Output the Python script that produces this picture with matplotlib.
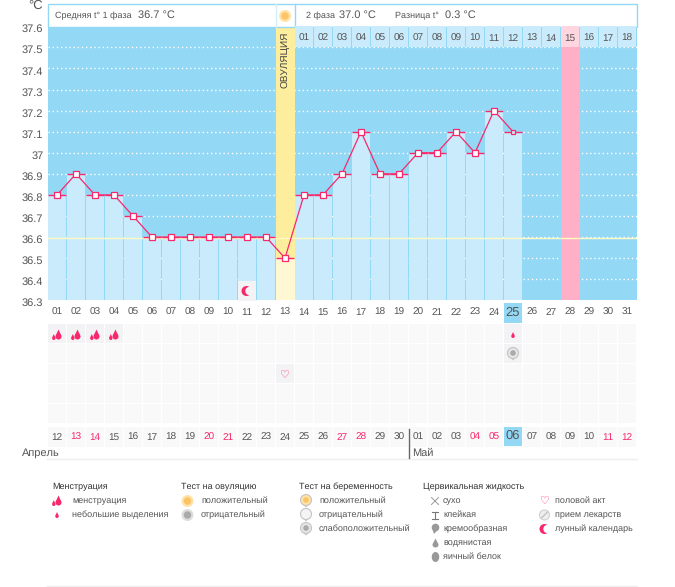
import matplotlib
matplotlib.use("Agg")
import matplotlib.pyplot as plt
from matplotlib.patches import Rectangle, Circle, Polygon, Ellipse
from matplotlib.transforms import offset_copy

plt.rcParams["font.family"] = ["Liberation Sans", "DejaVu Sans"]
plt.rcParams["text.hinting"] = "no_hinting"
plt.rcParams["text.hinting_factor"] = 1

# chart data
days = list(range(1, 32))
temps = [36.8, 36.9, 36.8, 36.8, 36.7, 36.6, 36.6, 36.6, 36.6, 36.6, 36.6, 36.6, 36.5,
         36.8, 36.8, 36.9, 37.1, 36.9, 36.9, 37.0, 37.0, 37.1, 37.0, 37.2, 37.1]
temp_days = days[:len(temps)]
y_ticks = [37.6, 37.5, 37.4, 37.3, 37.2, 37.1, 37.0, 36.9, 36.8, 36.7, 36.6, 36.5, 36.4, 36.3]
y_labels = ["37.6", "37.5", "37.4", "37.3", "37.2", "37.1", "37", "36.9", "36.8", "36.7",
            "36.6", "36.5", "36.4", "36.3"]
cover_line = 36.595
cycle_days = ["%02d" % d for d in range(1, 19)]
day_labels = ["%02d" % d for d in days]
date_labels = ["12", "13", "14", "15", "16", "17", "18", "19", "20", "21", "22", "23", "24", "25",
               "26", "27", "28", "29", "30", "01", "02", "03", "04", "05", "06", "07", "08", "09",
               "10", "11", "12"]
weekend_cols = [2, 3, 9, 10, 16, 17, 23, 24, 30, 31]
ovulation_day = 13
next_period_day = 28
today = 25
heavy_days = [1, 2, 3, 4]
spot_days = [25]
test_days = [25]
sex_days = [13]
moon_days = [11]

# colours
SKY = "#93D8F5"
PALE = "#C9EBFC"
RED = "#F8286A"
TXT = "#555555"
DARK = "#333333"
GRY = "#999999"

LEFT, STEP = 47.5, 19.0
TOP, BOTTOM = 26.3, 300.3

fig = plt.figure(figsize=(6.75, 5.87), dpi=100, facecolor="white")
bg = fig.add_axes([0, 0, 1, 1])
bg.set_xlim(0, 675)
bg.set_ylim(587, 0)
bg.axis("off")

ax = fig.add_axes([LEFT / 675, 1 - BOTTOM / 587, 31 * STEP / 675, (BOTTOM - TOP) / 587])
ax.set_xlim(0.5, 31.5)
ax.set_ylim(36.3, 37.6)
ax.set_facecolor(SKY)
for s in ax.spines.values():
    s.set_visible(False)
ax.set_xticks([])
ax.set_yticks(y_ticks)
ax.set_yticklabels(y_labels, color=TXT, fontsize=7.8)
ax.tick_params(axis="y", length=0, pad=3)
# the scale labels sit about 2px below their gridlines
for lab in ax.get_yticklabels():
    lab.set_transform(offset_copy(lab.get_transform(), fig=fig, y=-2, units="dots"))

for v in y_ticks[1:-1]:
    ax.axhline(v, color="white", lw=1, ls=(0, (1, 2)), zorder=1)
ax.axvspan(ovulation_day - 0.5, ovulation_day + 0.5, color="#FDEE9E", lw=0, zorder=2)
ax.axvspan(next_period_day - 0.5, next_period_day + 0.5, color="#FFB0C6", lw=0, zorder=2)

bar_colors = ["#FFF8D2" if d == ovulation_day else PALE for d in temp_days]
bar_widths = [1.0 if d == ovulation_day else 18 / 19 for d in temp_days]
ax.bar(temp_days, [t - 36.3 for t in temps], bottom=36.3, width=bar_widths,
       color=bar_colors, lw=0, zorder=3)
ax.axhline(cover_line, color="#FFF9C4", lw=1, zorder=4)
ax.hlines(temps, [d - 0.48 for d in temp_days], [d + 0.48 for d in temp_days],
          color=RED, lw=1, zorder=5)
ax.plot(temp_days, temps, color=RED, lw=0.9, zorder=6)
ax.plot(temp_days[:-1], temps[:-1], ls="", marker="s", ms=3.7, mfc="white", mec=RED, mew=0.9, zorder=7)
ax.plot(temp_days[-1:], temps[-1:], ls="", marker="s", ms=3.0, mfc=PALE, mec=RED, mew=0.9, zorder=7)


def col_x(day):
    return LEFT + (day - 0.5) * STEP


def txt(x, y, s, size=8.85, color=TXT, **kw):
    kw.setdefault("va", "center")
    bg.text(x, y, s, fontsize=size * 0.72, color=color, **kw)


def drop(x, y, w, h, color):
    # teardrop, pointed at the top
    bg.add_patch(Ellipse((x, y + h * 0.2), w, h * 0.6, color=color, lw=0, zorder=9))
    bg.add_patch(Polygon([(x - w * 0.42, y + h * 0.05), (x, y - h * 0.5), (x + w * 0.42, y + h * 0.05)],
                         color=color, lw=0, zorder=9))


def heavy_icon(x, y):
    drop(x + 1.5, y - 0.5, 6, 10, RED)
    drop(x - 3.2, y + 2, 3.4, 6, RED)


def sun_icon(x, y, r=6, outer="#FFE3A6", inner="#FBC468"):
    bg.add_patch(Circle((x, y), r, color=outer, lw=0, zorder=9))
    bg.add_patch(Circle((x, y), r * 0.62, color=inner, lw=0, zorder=9))


def test_icon(x, y, face, dot):
    bg.add_patch(Polygon([(x - 3.5, y + 4), (x, y + 7.5), (x + 3.5, y + 4)], color="#C8C8C8", lw=0, zorder=9))
    bg.add_patch(Circle((x, y), 5.5, fc=face, ec="#C4C4C4", lw=0.8, zorder=9))
    if dot:
        bg.add_patch(Circle((x, y), 2.8, color=dot, lw=0, zorder=10))


def moon_icon(x, y, cut):
    bg.add_patch(Circle((x, y), 5, color=RED, lw=0, zorder=9))
    bg.add_patch(Circle((x + 3, y), 4.2, color=cut, lw=0, zorder=10))


def heart_icon(x, y):
    bg.text(x, y, "\u2661", fontsize=8, color=RED, ha="center", va="center",
            family="DejaVu Sans", zorder=10)


bg.set_zorder(5)

# header frame
bg.add_patch(Rectangle((47.5, 3.5), 589, 23, fc="white", ec=SKY, lw=1, zorder=1))
bg.plot([275.5, 275.5], [3.5, 26.5], color="#D3EEFA", lw=1, zorder=2)
bg.plot([294.5, 294.5], [3.5, 26.5], color=SKY, lw=1, zorder=2)
txt(28, 6, "\u00b0C", size=13)
txt(55, 16, "\u0421\u0440\u0435\u0434\u043d\u044f\u044f t\u00b0 1 \u0444\u0430\u0437\u0430", size=9.3)
txt(138, 15.5, "36.7 \u00b0C", size=11)
sun_icon(col_x(ovulation_day), 16)
txt(306, 16, "2 \u0444\u0430\u0437\u0430", size=9.3)
txt(339, 15.5, "37.0 \u00b0C", size=11)
txt(395, 16, "\u0420\u0430\u0437\u043d\u0438\u0446\u0430 t\u00b0", size=9.3)
txt(445, 15.5, "0.3 \u00b0C", size=11)

# cycle days above the phase 2 columns
for i, lab in enumerate(cycle_days):
    d = ovulation_day + 1 + i
    c = "#FFD5E0" if d == next_period_day else PALE
    bg.add_patch(Rectangle((LEFT + (d - 1) * STEP + 0.5, TOP), STEP - 1, 21, color=c, lw=0, zorder=8))
    txt(col_x(d), 38, lab, size=10.4, ha="center", zorder=9)
txt(col_x(ovulation_day), 60, "\u041e\u0412\u0423\u041b\u042f\u0426\u0418\u042f", size=9.9, rotation=90, ha="center", color="#444444", zorder=9)

# calendar rows
CELL = "#F9F9FA"
ACTIVE = "#F3F2F4"
for d in days:
    x0 = LEFT + (d - 1) * STEP + 0.5
    for r in range(5):
        active = (r == 0 and (d in heavy_days or d in spot_days)) or (r == 1 and d in test_days) or (r == 2 and d in sex_days)
        bg.add_patch(Rectangle((x0, 324 + r * 20), STEP - 1, 19, color=ACTIVE if active else CELL, lw=0, zorder=2))
    bg.add_patch(Rectangle((x0, 427), STEP - 1, 19.5, color=CELL, lw=0, zorder=2))
    if d == today:
        bg.add_patch(Rectangle((x0, 303), STEP - 1, 20, color=SKY, lw=0, zorder=3))
        bg.add_patch(Rectangle((x0, 427), STEP - 1, 19, color=SKY, lw=0, zorder=3))
    big = d == today
    txt(col_x(d), 312.5, day_labels[d - 1], size=12.5 if big else 10.4, ha="center", zorder=4)
    txt(col_x(d), 436 if big else 437.5, date_labels[d - 1], size=12.5 if big else 10.4,
        color=RED if d in weekend_cols else TXT, ha="center", zorder=4)

for d in heavy_days:
    heavy_icon(col_x(d), 335)
for d in spot_days:
    drop(col_x(d), 335, 3.5, 6, RED)
for d in test_days:
    test_icon(col_x(d), 353, "#E6E6E6", "#AAAAAA")
for d in sex_days:
    heart_icon(col_x(d), 375)
for d in moon_days:
    bg.add_patch(Rectangle((LEFT + (d - 1) * STEP + 0.5, 281), STEP - 1, 20, color=ACTIVE, lw=0, zorder=8))
    moon_icon(col_x(d) - 0.5, 291, ACTIVE)

# month labels
txt(22, 453, "\u0410\u043f\u0440\u0435\u043b\u044c", size=11)
txt(412, 453, "\u041c\u0430\u0439", size=11)
bg.plot([408.5, 408.5], [429, 458], color="#666666", lw=1, zorder=5)
bg.plot([47, 637], [458.5, 458.5], color="#EEEEEE", lw=1, zorder=1)
bg.plot([47, 637], [586, 586], color="#EEEEEE", lw=1, zorder=1)

# legend
txt(52, 487, "\u041c\u0435\u043d\u0441\u0442\u0440\u0443\u0430\u0446\u0438\u044f", color=DARK)
heavy_icon(57, 501)
txt(72, 501, "\u043c\u0435\u043d\u0441\u0442\u0440\u0443\u0430\u0446\u0438\u044f")
drop(57, 515, 3.5, 6, RED)
txt(72, 515, "\u043d\u0435\u0431\u043e\u043b\u044c\u0448\u0438\u0435 \u0432\u044b\u0434\u0435\u043b\u0435\u043d\u0438\u044f")

txt(181, 487, "\u0422\u0435\u0441\u0442 \u043d\u0430 \u043e\u0432\u0443\u043b\u044f\u0446\u0438\u044e", color=DARK)
sun_icon(187.5, 501)
txt(201, 501, "\u043f\u043e\u043b\u043e\u0436\u0438\u0442\u0435\u043b\u044c\u043d\u044b\u0439")
sun_icon(187.5, 515, outer="#DDDDDD", inner="#AAAAAA")
txt(201, 515, "\u043e\u0442\u0440\u0438\u0446\u0430\u0442\u0435\u043b\u044c\u043d\u044b\u0439")

txt(299, 487, "\u0422\u0435\u0441\u0442 \u043d\u0430 \u0431\u0435\u0440\u0435\u043c\u0435\u043d\u043d\u043e\u0441\u0442\u044c", color=DARK)
test_icon(306, 500, "#FFE3A6", "#FBC468")
txt(319, 501, "\u043f\u043e\u043b\u043e\u0436\u0438\u0442\u0435\u043b\u044c\u043d\u044b\u0439")
test_icon(306, 514, "#F4F4F4", None)
txt(319, 515, "\u043e\u0442\u0440\u0438\u0446\u0430\u0442\u0435\u043b\u044c\u043d\u044b\u0439")
test_icon(306, 528, "#E6E6E6", "#AAAAAA")
txt(319, 529, "\u0441\u043b\u0430\u0431\u043e\u043f\u043e\u043b\u043e\u0436\u0438\u0442\u0435\u043b\u044c\u043d\u044b\u0439")

txt(423, 487, "\u0426\u0435\u0440\u0432\u0438\u043a\u0430\u043b\u044c\u043d\u0430\u044f \u0436\u0438\u0434\u043a\u043e\u0441\u0442\u044c", color=DARK)
bg.plot([431.5, 438.5], [497.5, 504.5], color=GRY, lw=0.7, zorder=9)
bg.plot([431.5, 438.5], [504.5, 497.5], color=GRY, lw=0.7, zorder=9)
txt(443, 501, "\u0441\u0443\u0445\u043e")
bg.plot([432, 438], [511.5, 511.5], color="#777777", lw=0.8, zorder=9)
bg.plot([435, 435], [511.5, 518.5], color="#777777", lw=0.8, zorder=9)
bg.plot([432, 438], [518.5, 518.5], color="#777777", lw=0.8, zorder=9)
txt(443, 515, "\u043a\u043b\u0435\u0439\u043a\u0430\u044f")
bg.add_patch(Circle((435.5, 527.5), 3.8, color=GRY, lw=0, zorder=9))
bg.add_patch(Polygon([(432, 528), (438.5, 529), (434, 534)], color=GRY, lw=0, zorder=9))
txt(443, 529, "\u043a\u0440\u0435\u043c\u043e\u043e\u0431\u0440\u0430\u0437\u043d\u0430\u044f")
drop(435.5, 543, 6, 9, GRY)
txt(443, 543, "\u0432\u043e\u0434\u044f\u043d\u0438\u0441\u0442\u0430\u044f")
bg.add_patch(Ellipse((435.5, 557), 7.5, 10, color=GRY, lw=0, zorder=9))
txt(443, 557, "\u044f\u0438\u0447\u043d\u044b\u0439 \u0431\u0435\u043b\u043e\u043a")

heart_icon(544.5, 501)
txt(555, 501, "\u043f\u043e\u043b\u043e\u0432\u043e\u0439 \u0430\u043a\u0442")
bg.add_patch(Circle((544.5, 515), 5, fc="#EEEEEE", ec="#CCCCCC", lw=0.7, zorder=9))
bg.plot([541.5, 547.5], [518, 512], color="#BBBBBB", lw=0.8, zorder=10)
txt(555, 515, "\u043f\u0440\u0438\u0435\u043c \u043b\u0435\u043a\u0430\u0440\u0441\u0442\u0432")
moon_icon(544.5, 529, "white")
txt(555, 529, "\u043b\u0443\u043d\u043d\u044b\u0439 \u043a\u0430\u043b\u0435\u043d\u0434\u0430\u0440\u044c")

fig.savefig("out.png", dpi=100, facecolor="white")
